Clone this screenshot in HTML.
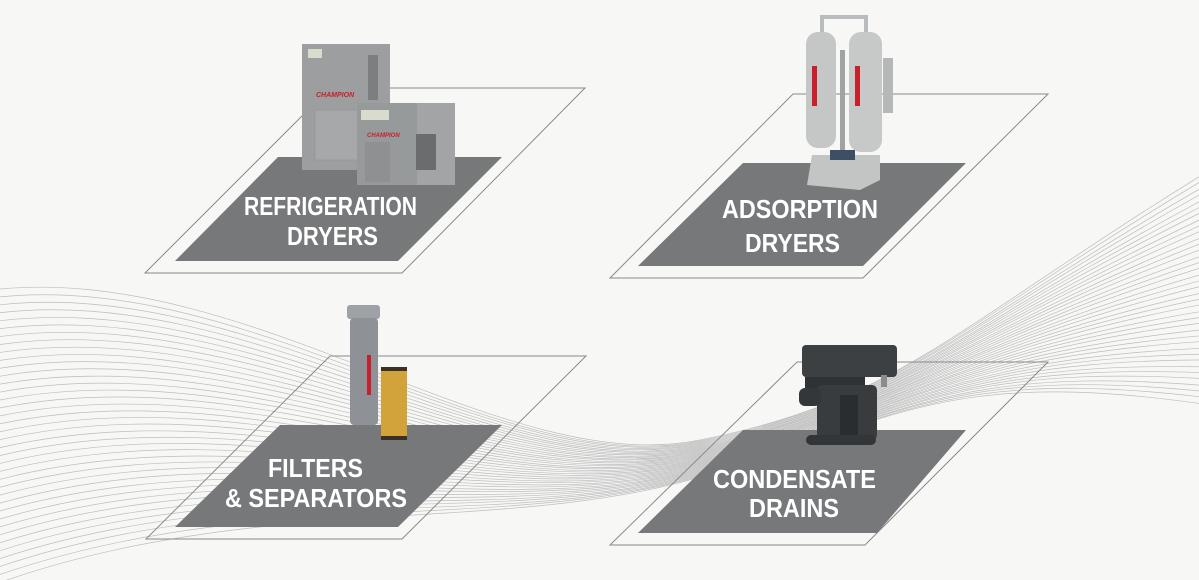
<!DOCTYPE html>
<html><head><meta charset="utf-8"><style>
html,body{margin:0;padding:0;background:#f7f7f6;}
svg{display:block}
text{font-family:"Liberation Sans",sans-serif;font-weight:bold;fill:#fff;font-size:26px}
</style></head><body>
<svg width="1199" height="580" viewBox="0 0 1199 580" xmlns="http://www.w3.org/2000/svg">
<rect width="1199" height="580" fill="#f7f7f6"/>
<g fill="none" stroke="#bdbdbd" stroke-width="0.7">
<path d="M-10,290 C250,260 500,480 700,440 S950,330 1210,170"/>
<path d="M-10,298 C250,266 500,482 700,441 S950,331 1210,176"/>
<path d="M-10,306 C250,272 500,483 700,442 S950,332 1210,183"/>
<path d="M-10,314 C250,278 500,485 700,443 S950,333 1210,189"/>
<path d="M-10,322 C250,285 500,486 700,444 S950,334 1210,196"/>
<path d="M-10,330 C250,291 500,488 700,445 S950,335 1210,202"/>
<path d="M-10,338 C250,297 500,489 700,446 S950,336 1210,208"/>
<path d="M-10,346 C250,303 500,491 700,447 S950,337 1210,215"/>
<path d="M-10,354 C250,310 500,492 700,448 S950,338 1210,221"/>
<path d="M-10,362 C250,316 500,494 700,449 S950,339 1210,227"/>
<path d="M-10,370 C250,322 500,495 700,450 S950,340 1210,234"/>
<path d="M-10,378 C250,328 500,497 700,451 S950,341 1210,240"/>
<path d="M-10,386 C250,335 500,498 700,452 S950,342 1210,246"/>
<path d="M-10,394 C250,341 500,500 700,453 S950,343 1210,253"/>
<path d="M-10,402 C250,347 500,501 700,454 S950,344 1210,259"/>
<path d="M-10,410 C250,353 500,503 700,455 S950,345 1210,265"/>
<path d="M-10,418 C250,360 500,504 700,456 S950,346 1210,272"/>
<path d="M-10,426 C250,366 500,506 700,457 S950,347 1210,278"/>
<path d="M-10,434 C250,372 500,507 700,458 S950,348 1210,284"/>
<path d="M-10,442 C250,378 500,509 700,459 S950,349 1210,291"/>
<path d="M-10,450 C250,385 500,510 700,460 S950,350 1210,297"/>
<path d="M-10,458 C250,391 500,512 700,461 S950,351 1210,303"/>
<path d="M-10,466 C250,397 500,513 700,462 S950,352 1210,310"/>
<path d="M-10,474 C250,403 500,515 700,463 S950,353 1210,316"/>
<path d="M-10,482 C250,410 500,516 700,464 S950,354 1210,322"/>
<path d="M-10,490 C250,416 500,518 700,465 S950,355 1210,329"/>
<path d="M-10,498 C250,422 500,519 700,466 S950,356 1210,335"/>
<path d="M-10,506 C250,428 500,521 700,467 S950,357 1210,341"/>
<path d="M-10,514 C250,435 500,522 700,468 S950,358 1210,348"/>
<path d="M-10,522 C250,441 500,524 700,469 S950,359 1210,354"/>
<path d="M-10,530 C250,447 500,525 700,470 S950,360 1210,360"/>
<path d="M-10,538 C250,453 500,527 700,471 S950,361 1210,367"/>
<path d="M-10,546 C250,460 500,528 700,472 S950,362 1210,373"/>
<path d="M-10,554 C250,466 500,530 700,473 S950,363 1210,379"/>
<path d="M-10,562 C250,472 500,531 700,474 S950,364 1210,386"/>
<path d="M-10,570 C250,478 500,533 700,475 S950,365 1210,392"/>
<path d="M-10,578 C250,485 500,534 700,476 S950,366 1210,398"/>
<path d="M-10,586 C250,491 500,536 700,477 S950,367 1210,405"/>
</g>

<g fill="none" stroke="#8a8a8a" stroke-width="1">
<polygon points="330,88 585,88 402,273 145,273"/>
<polygon points="793,94 1048,94 863,278 610,278"/>
<polygon points="330,356 586,356 402,539 146,539"/>
<polygon points="797,362 1048,362 865,545 610,545"/>
</g>
<g fill="#77787a">
<polygon points="278,157 502,157 398,261 175,261"/>
<polygon points="743,163 966,163 863,266 638,266"/>
<polygon points="280,425 502,425 398,527 175,527"/>
<polygon points="743,430 966,430 877,533 638,533"/>
</g>

<rect x="302" y="44" width="88" height="126" fill="#9c9e9f"/>
<rect x="368" y="55" width="10" height="45" fill="#7c7e80"/>
<rect x="308" y="49" width="14" height="9" fill="#d8dccc"/>
<rect x="315" y="110" width="45" height="50" fill="#a6a8a9" stroke="#8f9193" stroke-width="0.6"/>
<text x="316" y="97" style="font-size:7px;fill:#c8202a;font-style:italic">CHAMPION</text>
<rect x="357" y="103" width="98" height="82" fill="#a2a4a5"/>
<rect x="357" y="103" width="60" height="82" fill="#979a9b"/>
<rect x="361" y="110" width="28" height="10" fill="#d9dbcc"/>
<rect x="365" y="142" width="25" height="40" fill="#8e9092"/>
<rect x="416" y="134" width="20" height="36" fill="#6a6c6e"/>
<text x="367" y="137" style="font-size:6px;fill:#c8202a;font-style:italic">CHAMPION</text>

<path d="M822,33 L822,17 L866,17 L866,33" fill="none" stroke="#b9bcbe" stroke-width="4"/>
<rect x="883" y="58" width="10" height="55" fill="#b5b7b8"/>
<rect x="806" y="32" width="30" height="116" rx="12" fill="#c5c6c6"/>
<rect x="849" y="32" width="33" height="120" rx="12" fill="#c7c8c8"/>
<rect x="812" y="66" width="5" height="40" fill="#c8202a"/>
<rect x="855" y="66" width="5" height="40" fill="#c8202a"/>
<rect x="840" y="50" width="5" height="110" fill="#a0a2a3"/>
<polygon points="812,155 880,155 880,180 860,190 807,185" fill="#c3c4c4"/>
<rect x="830" y="150" width="25" height="10" fill="#3d4f64"/>

<rect x="347" y="305" width="33" height="14" rx="3" fill="#9ea2a6"/>
<rect x="350" y="318" width="28" height="107" rx="4" fill="#8e9296"/>
<rect x="367" y="355" width="4" height="40" fill="#c8202a"/>
<rect x="381" y="367" width="26" height="73" rx="3" fill="#d3a33b"/>
<rect x="381" y="367" width="26" height="4" fill="#3a3028"/>
<rect x="381" y="436" width="26" height="4" fill="#3a3028"/>

<rect x="802" y="345" width="95" height="32" rx="4" fill="#3d4043"/>
<rect x="805" y="377" width="60" height="20" fill="#2f3235"/>
<rect x="817" y="385" width="60" height="55" rx="5" fill="#393c3f"/>
<rect x="799" y="388" width="22" height="18" rx="6" fill="#34373a"/>
<rect x="840" y="395" width="18" height="45" fill="#2a2d30"/>
<rect x="806" y="435" width="70" height="10" rx="5" fill="#333639"/>
<rect x="881" y="375" width="6" height="12" fill="#8a8c8e"/>

<text x="244" y="215" textLength="173" lengthAdjust="spacingAndGlyphs">REFRIGERATION</text>
<text x="287" y="245" textLength="91" lengthAdjust="spacingAndGlyphs">DRYERS</text>
<text x="722" y="218" textLength="156" lengthAdjust="spacingAndGlyphs">ADSORPTION</text>
<text x="745" y="252" textLength="95" lengthAdjust="spacingAndGlyphs">DRYERS</text>
<text x="268" y="477" textLength="95" lengthAdjust="spacingAndGlyphs">FILTERS</text>
<text x="225" y="507" textLength="182" lengthAdjust="spacingAndGlyphs">&amp; SEPARATORS</text>
<text x="713" y="488" textLength="163" lengthAdjust="spacingAndGlyphs">CONDENSATE</text>
<text x="749" y="517" textLength="90" lengthAdjust="spacingAndGlyphs">DRAINS</text>
</svg>
</body></html>
